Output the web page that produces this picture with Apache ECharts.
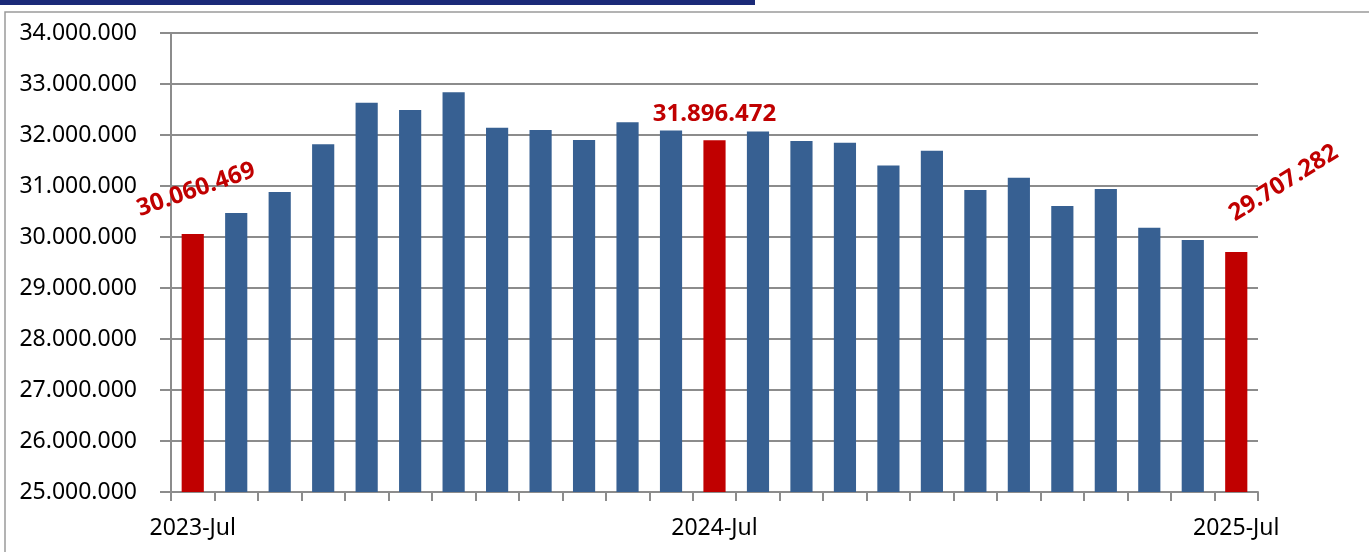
<!DOCTYPE html>
<html><head><meta charset="utf-8">
<script src="https://cdn.jsdelivr.net/npm/echarts@6/dist/echarts.min.js"></script>
<style>html,body{margin:0;padding:0;background:#fff}#c{width:1369px;height:552px}</style>
</head><body><div id="c"></div>
<script>
const categories = ["2023-Jul","2023-Aug","2023-Sep","2023-Oct","2023-Nov","2023-Dec","2024-Jan","2024-Feb","2024-Mar","2024-Apr","2024-May","2024-Jun","2024-Jul","2024-Aug","2024-Sep","2024-Oct","2024-Nov","2024-Dec","2025-Jan","2025-Feb","2025-Mar","2025-Apr","2025-May","2025-Jun","2025-Jul"];
const values = [30060469,30470000,30880000,31820000,32630000,32490000,32840000,32140000,32100000,31900000,32250000,32090000,31896472,32070000,31880000,31850000,31400000,31690000,30920000,31160000,30610000,30940000,30180000,29940000,29707282];
const highlighted = [0,12,24];
const yTicks = {min:25000000, max:34000000, interval:1000000};

function fmt(v){return String(Math.round(v)).replace(/\B(?=(\d{3})+(?!\d))/g,'.');}
const BLUE='#376092', RED='#C00000';
const FONT='Noto Sans';
const labelCfg = {
  0:{rotate:19, offset:[16,-36]},
  12:{rotate:0, offset:[0,-21]},
  24:{rotate:32, offset:[74,-29]}
};
const data = values.map((v,i)=>{
  const o={value:v,itemStyle:{color:highlighted.includes(i)?RED:BLUE}};
  if(labelCfg[i]){
    o.label={show:true,position:'top',formatter:p=>fmt(p.value),color:RED,fontWeight:'bold',
      fontFamily:FONT,fontSize:24,rotate:labelCfg[i].rotate,offset:labelCfg[i].offset,
      align:'center',verticalAlign:'middle'};
  }
  return o;
});
const chart=echarts.init(document.getElementById('c'));
chart.setOption({
  animation:false,
  graphic:[
    {type:'rect',shape:{x:0,y:0,width:755,height:5},style:{fill:'#1b2a78'}},
    {type:'rect',shape:{x:5,y:12,width:1380,height:560},style:{fill:'none',stroke:'#9a9a9a',lineWidth:1.5}}
  ],
  grid:{left:171,right:111,top:33,bottom:60},
  xAxis:{type:'category',data:categories,boundaryGap:true,
    axisLine:{lineStyle:{color:'#8c8c8c',width:2}},
    axisTick:{show:true,interval:0,length:9,lineStyle:{color:'#8c8c8c',width:2}},
    axisLabel:{interval:11,margin:25,color:'#000',fontSize:23,fontFamily:FONT},
    splitLine:{show:false}},
  yAxis:{type:'value',min:yTicks.min,max:yTicks.max,interval:yTicks.interval,
    axisLine:{show:true,lineStyle:{color:'#8c8c8c',width:2}},
    axisTick:{show:true,length:11,lineStyle:{color:'#8c8c8c',width:2}},
    axisLabel:{formatter:v=>fmt(v),margin:34,color:'#000',fontSize:23,fontFamily:FONT},
    splitLine:{show:true,lineStyle:{color:'#8c8c8c',width:2}}},
  series:[{type:'bar',data:data,barWidth:'51%'}]
});
</script></body></html>
